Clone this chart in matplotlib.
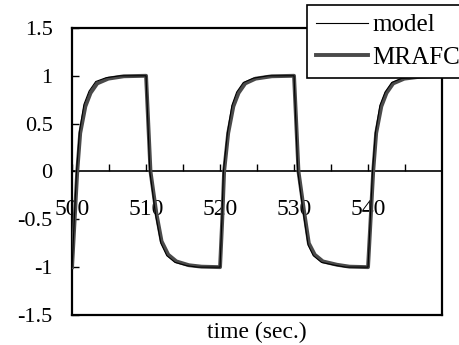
import matplotlib.pyplot as plt
from matplotlib.ticker import FixedLocator, NullFormatter

plt.rcParams['font.family'] = ['Liberation Serif', 'DejaVu Serif']

# model response (time in s, output)
model_t = [500, 500.3, 500.6, 501.0, 501.6, 502.3, 503.2, 504.6, 506.5, 510.0,
           510.25, 510.5, 511.3, 512.0, 512.8, 513.9, 515.5, 517.0, 520.0,
           520.25, 520.45, 521.0, 521.6, 522.25, 523.15, 524.5, 526.5, 530.0,
           530.25, 530.5, 531.3, 531.9, 532.6, 533.7, 535.5, 537.0, 540.0,
           540.3, 540.6, 541.0, 541.6, 542.3, 543.2, 544.6, 546.8, 550.0]
model_y = [-1.0, -0.5, 0.0, 0.42, 0.7, 0.84, 0.94, 0.98, 1.0, 1.0,
           0.5, 0.0, -0.46, -0.75, -0.88, -0.95, -0.985, -1.0, -1.0,
           -0.5, 0.0, 0.41, 0.69, 0.83, 0.93, 0.975, 1.0, 1.0,
           0.5, 0.0, -0.46, -0.77, -0.88, -0.95, -0.98, -1.0, -1.0,
           -0.5, 0.0, 0.41, 0.69, 0.83, 0.93, 0.975, 0.99, 1.0]

# MRAFC response
mrafc_t = [500, 500.35, 500.7, 501.1, 501.8, 502.5, 503.4, 504.9, 507.0, 510.0,
           510.3, 510.6, 511.4, 512.1, 513.0, 514.1, 515.8, 517.5, 520.0,
           520.3, 520.55, 521.1, 521.8, 522.5, 523.4, 524.8, 527.0, 530.0,
           530.3, 530.6, 531.4, 532.0, 532.8, 533.9, 535.8, 537.5, 540.0,
           540.35, 540.7, 541.1, 541.8, 542.5, 543.4, 544.9, 547.0, 550.0]
mrafc_y = [-1.0, -0.5, 0.0, 0.40, 0.68, 0.82, 0.92, 0.97, 0.995, 1.0,
           0.5, 0.0, -0.44, -0.73, -0.87, -0.94, -0.98, -0.995, -1.0,
           -0.5, 0.0, 0.40, 0.68, 0.82, 0.92, 0.97, 0.995, 1.0,
           0.5, 0.0, -0.44, -0.75, -0.87, -0.94, -0.975, -0.995, -1.0,
           -0.5, 0.0, 0.40, 0.68, 0.82, 0.92, 0.97, 0.99, 1.0]

x_major = [500, 510, 520, 530, 540]
x_minor = [505, 515, 525, 535, 545]
y_ticks = [-1.5, -1, -0.5, 0, 0.5, 1, 1.5]
y_labels = ['-1.5', '-1', '-0.5', '0', '0.5', '1', '1.5']

fig = plt.figure(figsize=(4.59, 3.45), dpi=100)
ax = fig.add_axes([0.157, 0.087, 0.806, 0.832])

ax.plot(mrafc_t, mrafc_y, color='#4a4a4a', lw=2.8, label='MRAFC', zorder=3)
ax.plot(model_t, model_y, color='black', lw=0.8, label='model', zorder=4)

ax.set_xlim(500, 550)
ax.set_ylim(-1.5, 1.5)

for s in ax.spines.values():
    s.set_linewidth(1.6)

# time axis runs along y = 0, frame bottom drawn separately
ax.spines['bottom'].set_position(('data', 0))
ax.spines['bottom'].set_linewidth(1.2)
ax.plot([0, 1], [0, 0], transform=ax.transAxes, color='black', lw=1.6,
        clip_on=False, zorder=5)

ax.xaxis.set_major_locator(FixedLocator(x_major))
ax.xaxis.set_minor_locator(FixedLocator(x_minor))
ax.xaxis.set_minor_formatter(NullFormatter())
ax.tick_params(axis='x', which='both', direction='in', length=5, width=1,
               pad=20, labelsize=17)

ax.set_yticks(y_ticks, y_labels)
ax.tick_params(axis='y', direction='in', length=5, width=1, pad=14, labelsize=16)

ax.set_xlabel('time (sec.)', fontsize=17)
ax.xaxis.set_label_coords(0.5, -0.025)
ax.xaxis.label.set_verticalalignment('top')

h, l = ax.get_legend_handles_labels()
leg = ax.legend(h[::-1], l[::-1], loc='upper left',
                bbox_to_anchor=(307 / 459, 1 - 5 / 345),
                bbox_transform=fig.transFigure, fontsize=18,
                frameon=True, fancybox=False, framealpha=1,
                edgecolor='black', handlelength=2.1, handletextpad=0.15,
                borderpad=0.35, labelspacing=0.4, borderaxespad=0)
leg.get_frame().set_linewidth(1.2)
leg.set_zorder(10)

fig.savefig('out.png', dpi=100)
